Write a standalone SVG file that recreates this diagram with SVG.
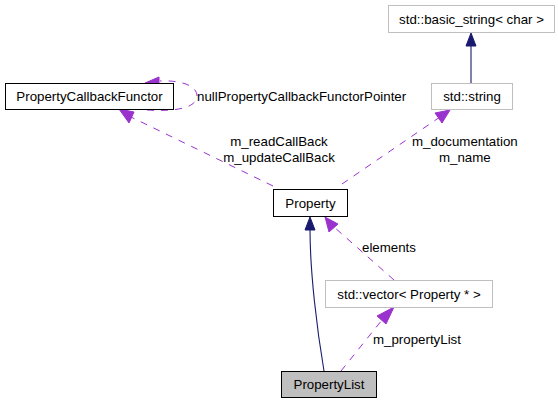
<svg xmlns="http://www.w3.org/2000/svg" width="558" height="402" viewBox="0 0 558 402">
<style>
text{font-family:"Liberation Sans",Arial,sans-serif;font-size:13.3px;fill:#000}
.c{text-anchor:middle}
.nb{fill:#fff;stroke:#000;stroke-width:1}
.ng{fill:#fff;stroke:#bfbfbf;stroke-width:1}
.nh{fill:#bfbfbf;stroke:#000;stroke-width:1}
.inh{fill:none;stroke:#191970;stroke-width:1.1}
.use{fill:none;stroke:#9a32cd;stroke-width:1;stroke-dasharray:7,7}
.ah{fill:#191970;stroke:#191970}
.au{fill:#9a32cd;stroke:#9a32cd}
</style>
<rect width="558" height="402" fill="#fff"/>
<g id="connectors">
  <path class="inh" d="M471,46 L471,83"/>
  <polygon class="ah" points="471,33 466,46 476,46"/>
  <path class="inh" d="M310,229 C310,272 317,330 324,371"/>
  <polygon class="ah" points="310,217 305,230 315,230"/>
  <path class="use" d="M341,371 L382,320"/>
  <polygon class="au" points="394,307 377,316 386,324"/>
  <path class="use" d="M394,280 L334,227"/>
  <polygon class="au" points="325,217 329,232 338,224"/>
  <path class="use" d="M273,186 L131,117"/>
  <polygon class="au" points="119,109 129,123 134,112"/>
  <path class="use" d="M342,184 L440,117"/>
  <polygon class="au" points="450,110 435,113 442,123"/>
  <path class="use" d="M147,110 C178,112 197,107 197,96 C197,86 182,80 160,81"/>
  <polygon class="au" points="145,83 159,77 159,87"/>
</g>
<g id="labels">
  <text x="197" y="101">nullPropertyCallbackFunctorPointer</text>
  <text class="c" x="279" y="146">m_readCallBack</text>
  <text class="c" x="279" y="162">m_updateCallBack</text>
  <text x="412" y="146">m_documentation</text>
  <text x="439" y="162">m_name</text>
  <text x="362" y="252">elements</text>
  <text x="373" y="344">m_propertyList</text>
</g>
<g id="n-basic-string">
  <rect class="ng" x="388.5" y="5.5" width="166" height="27"/>
  <text class="c" x="471.5" y="23.5">std::basic_string&lt; char &gt;</text>
</g>
<g id="n-string">
  <rect class="ng" x="431.5" y="83.5" width="81" height="26"/>
  <text class="c" x="472" y="101">std::string</text>
</g>
<g id="n-callback">
  <rect class="nb" x="5.5" y="83.5" width="168" height="26"/>
  <text class="c" x="89.5" y="101">PropertyCallbackFunctor</text>
</g>
<g id="n-property">
  <rect class="nb" x="273.5" y="189.5" width="74" height="27"/>
  <text class="c" x="310.5" y="207.5">Property</text>
</g>
<g id="n-vector">
  <rect class="ng" x="325.5" y="280.5" width="167" height="27"/>
  <text class="c" x="409" y="298.5">std::vector&lt; Property * &gt;</text>
</g>
<g id="n-propertylist">
  <rect class="nh" x="281.5" y="371.5" width="95" height="26"/>
  <text class="c" x="329" y="389">PropertyList</text>
</g>
</svg>
